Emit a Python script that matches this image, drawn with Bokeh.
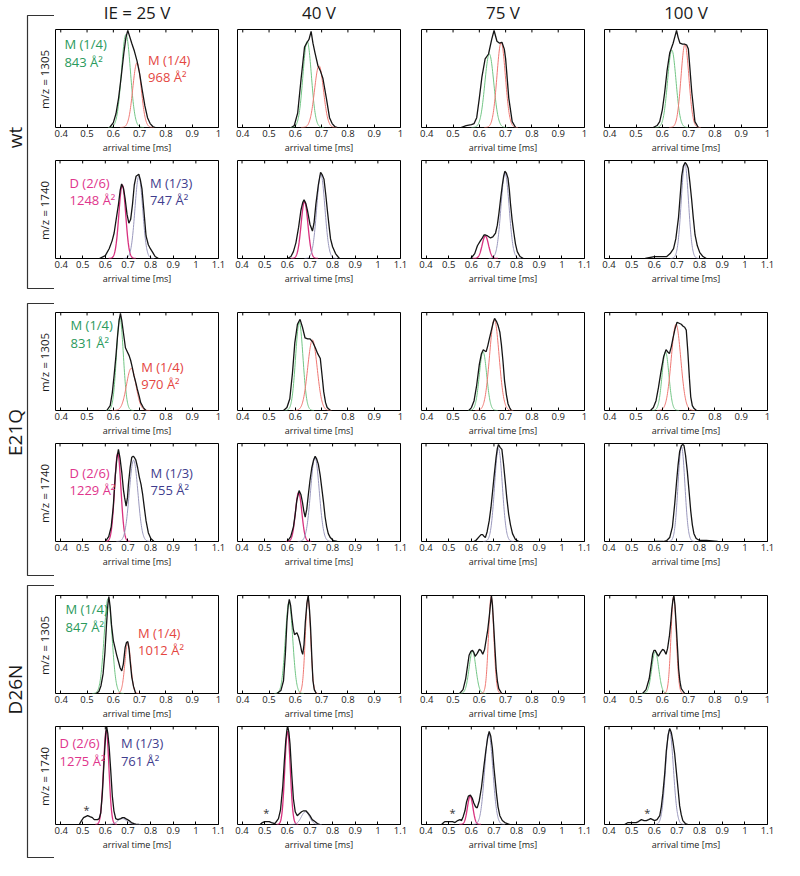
import numpy as np
from bokeh.plotting import figure
from bokeh.layouts import row, column, Spacer
from bokeh.models import Range1d, FixedTicker, PrintfTickFormatter, Label
from bokeh.embed import file_html
from bokeh.resources import INLINE

# ---------------- text ----------------
voltage_labels = ["IE = 25 V", "40 V", "75 V", "100 V"]
group_labels = ["wt", "E21Q", "D26N"]
mz_labels = ["m/z = 1305", "m/z = 1740"]
x_label = "arrival time [ms]"
ticks_1305 = [0.4, 0.5, 0.6, 0.7, 0.8, 0.9, 1.0]
ticks_1740 = [0.4, 0.5, 0.6, 0.7, 0.8, 0.9, 1.0, 1.1]

species_1305 = ["M (1/4)", "M (1/4)"]
species_1740 = ["D (2/6)", "M (1/3)"]
ccs_wt_1305 = ["843 Å²", "968 Å²"]
ccs_wt_1740 = ["1248 Å²", "747 Å²"]
ccs_e21q_1305 = ["831 Å²", "970 Å²"]
ccs_e21q_1740 = ["1229 Å²", "755 Å²"]
ccs_d26n_1305 = ["847 Å²", "1012 Å²"]
ccs_d26n_1740 = ["1275 Å²", "761 Å²"]

# ---------------- measured arrival time distributions (t in ms, normalised intensity) ----------------
# wt, m/z 1305
wt1305_25_t = [0.586, 0.60, 0.61, 0.62, 0.63, 0.64, 0.648, 0.655, 0.662, 0.67, 0.68, 0.69, 0.70, 0.71, 0.72, 0.73, 0.74, 0.75, 0.76]
wt1305_25_i = [0.00, 0.05, 0.14, 0.30, 0.52, 0.76, 0.92, 0.99, 0.93, 0.86, 0.78, 0.68, 0.55, 0.38, 0.22, 0.10, 0.04, 0.01, 0.00]
wt1305_40_t = [0.585, 0.596, 0.609, 0.622, 0.635, 0.645, 0.652, 0.66, 0.667, 0.675, 0.686, 0.695, 0.705, 0.718, 0.73, 0.74, 0.75, 0.76]
wt1305_40_i = [0.00, 0.02, 0.15, 0.50, 0.82, 0.87, 0.90, 0.98, 0.86, 0.76, 0.63, 0.58, 0.50, 0.30, 0.10, 0.04, 0.01, 0.00]
wt1305_75_t = [0.53, 0.55, 0.57, 0.58, 0.59, 0.60, 0.61, 0.622, 0.635, 0.647, 0.656, 0.667, 0.677, 0.686, 0.695, 0.70, 0.712, 0.725, 0.738]
wt1305_75_i = [0.00, 0.02, 0.03, 0.04, 0.10, 0.30, 0.52, 0.70, 0.75, 0.90, 0.99, 0.88, 0.86, 0.87, 0.80, 0.70, 0.30, 0.06, 0.00]
wt1305_100_t = [0.565, 0.58, 0.59, 0.60, 0.609, 0.618, 0.628, 0.641, 0.648, 0.654, 0.66, 0.667, 0.677, 0.686, 0.693, 0.699, 0.705, 0.712, 0.724, 0.737]
wt1305_100_i = [0.00, 0.02, 0.06, 0.18, 0.36, 0.58, 0.76, 0.86, 0.93, 0.99, 0.92, 0.86, 0.85, 0.85, 0.84, 0.80, 0.60, 0.36, 0.06, 0.00]
# wt, m/z 1740
wt1740_25_t = [0.574, 0.60, 0.617, 0.63, 0.639, 0.648, 0.658, 0.666, 0.672, 0.68, 0.687, 0.696, 0.704, 0.712, 0.72, 0.728, 0.736, 0.748, 0.755, 0.762, 0.77, 0.78, 0.79, 0.799, 0.81, 0.82, 0.835]
wt1740_25_i = [0.00, 0.03, 0.10, 0.18, 0.26, 0.40, 0.55, 0.70, 0.76, 0.72, 0.62, 0.45, 0.36, 0.40, 0.55, 0.75, 0.84, 0.86, 0.80, 0.71, 0.50, 0.23, 0.14, 0.10, 0.06, 0.02, 0.00]
wt1740_40_t = [0.60, 0.616, 0.627, 0.638, 0.65, 0.66, 0.668, 0.674, 0.682, 0.689, 0.70, 0.711, 0.718, 0.726, 0.737, 0.747, 0.755, 0.762, 0.77, 0.777, 0.785, 0.791, 0.80, 0.813, 0.83]
wt1740_40_i = [0.00, 0.02, 0.07, 0.16, 0.32, 0.49, 0.57, 0.60, 0.56, 0.49, 0.35, 0.28, 0.36, 0.55, 0.75, 0.88, 0.85, 0.81, 0.65, 0.49, 0.32, 0.20, 0.12, 0.05, 0.00]
wt1740_75_t = [0.598, 0.615, 0.627, 0.64, 0.649, 0.656, 0.663, 0.672, 0.685, 0.695, 0.707, 0.715, 0.722, 0.73, 0.737, 0.743, 0.748, 0.755, 0.762, 0.768, 0.773, 0.78, 0.788, 0.795, 0.803, 0.815, 0.83]
wt1740_75_i = [0.00, 0.05, 0.13, 0.18, 0.21, 0.24, 0.24, 0.23, 0.21, 0.22, 0.26, 0.34, 0.46, 0.62, 0.75, 0.84, 0.89, 0.87, 0.82, 0.70, 0.56, 0.40, 0.26, 0.15, 0.07, 0.02, 0.00]
wt1740_100_t = [0.56, 0.60, 0.63, 0.655, 0.67, 0.685, 0.695, 0.707, 0.714, 0.721, 0.728, 0.736, 0.743, 0.75, 0.757, 0.765, 0.772, 0.78, 0.79, 0.801, 0.815, 0.83]
wt1740_100_i = [0.00, 0.02, 0.02, 0.02, 0.05, 0.10, 0.20, 0.42, 0.63, 0.84, 0.94, 0.98, 0.96, 0.92, 0.78, 0.60, 0.42, 0.24, 0.13, 0.06, 0.02, 0.00]
# E21Q, m/z 1305
e21q1305_25_t = [0.575, 0.588, 0.596, 0.603, 0.61, 0.616, 0.622, 0.627, 0.632, 0.64, 0.646, 0.653, 0.66, 0.666, 0.672, 0.678, 0.685, 0.691, 0.698, 0.704, 0.714, 0.724]
e21q1305_25_i = [0.00, 0.05, 0.18, 0.36, 0.56, 0.76, 0.92, 0.99, 0.92, 0.76, 0.64, 0.60, 0.56, 0.51, 0.44, 0.36, 0.29, 0.22, 0.15, 0.08, 0.03, 0.00]
e21q1305_40_t = [0.555, 0.568, 0.579, 0.589, 0.598, 0.608, 0.618, 0.627, 0.637, 0.647, 0.656, 0.666, 0.676, 0.685, 0.695, 0.702, 0.708, 0.715, 0.721, 0.734]
e21q1305_40_i = [0.00, 0.03, 0.12, 0.38, 0.69, 0.88, 0.93, 0.85, 0.74, 0.73, 0.73, 0.70, 0.64, 0.58, 0.53, 0.35, 0.19, 0.08, 0.03, 0.00]
e21q1305_75_t = [0.56, 0.57, 0.58, 0.59, 0.60, 0.608, 0.615, 0.62, 0.626, 0.632, 0.638, 0.645, 0.652, 0.658, 0.665, 0.671, 0.678, 0.684, 0.69, 0.696, 0.703, 0.709, 0.715, 0.722]
e21q1305_75_i = [0.00, 0.03, 0.10, 0.26, 0.47, 0.58, 0.62, 0.61, 0.60, 0.66, 0.73, 0.81, 0.89, 0.94, 0.91, 0.87, 0.80, 0.67, 0.50, 0.30, 0.16, 0.07, 0.03, 0.00]
e21q1305_100_t = [0.555, 0.566, 0.576, 0.585, 0.595, 0.605, 0.614, 0.62, 0.627, 0.634, 0.64, 0.648, 0.656, 0.664, 0.672, 0.679, 0.685, 0.691, 0.697, 0.703, 0.708, 0.714, 0.721, 0.73]
e21q1305_100_i = [0.00, 0.03, 0.10, 0.23, 0.40, 0.55, 0.62, 0.60, 0.58, 0.65, 0.73, 0.83, 0.90, 0.89, 0.88, 0.86, 0.85, 0.82, 0.60, 0.33, 0.14, 0.05, 0.02, 0.00]
# E21Q, m/z 1740
e21q1740_25_t = [0.60, 0.615, 0.626, 0.635, 0.644, 0.651, 0.658, 0.665, 0.673, 0.68, 0.685, 0.692, 0.698, 0.702, 0.71, 0.717, 0.723, 0.728, 0.735, 0.743, 0.75, 0.758, 0.765, 0.772, 0.78, 0.79, 0.801, 0.815]
e21q1740_25_i = [0.00, 0.05, 0.15, 0.35, 0.67, 0.85, 0.94, 0.85, 0.70, 0.53, 0.45, 0.36, 0.45, 0.58, 0.76, 0.86, 0.87, 0.86, 0.83, 0.75, 0.66, 0.58, 0.48, 0.35, 0.21, 0.09, 0.03, 0.00]
e21q1740_40_t = [0.60, 0.615, 0.627, 0.635, 0.642, 0.652, 0.66, 0.667, 0.673, 0.679, 0.686, 0.693, 0.70, 0.708, 0.716, 0.723, 0.73, 0.737, 0.745, 0.752, 0.76, 0.767, 0.774, 0.781, 0.79, 0.803, 0.82]
e21q1740_40_i = [0.00, 0.05, 0.15, 0.28, 0.42, 0.52, 0.48, 0.40, 0.31, 0.25, 0.33, 0.48, 0.62, 0.75, 0.83, 0.87, 0.84, 0.79, 0.68, 0.55, 0.40, 0.25, 0.15, 0.08, 0.04, 0.01, 0.00]
e21q1740_75_t = [0.61, 0.62, 0.635, 0.643, 0.65, 0.657, 0.662, 0.67, 0.679, 0.687, 0.694, 0.70, 0.709, 0.715, 0.72, 0.727, 0.735, 0.742, 0.75, 0.757, 0.765, 0.773, 0.782, 0.795, 0.81]
e21q1740_75_i = [0.00, 0.01, 0.05, 0.07, 0.07, 0.05, 0.04, 0.10, 0.21, 0.35, 0.51, 0.65, 0.85, 0.95, 0.99, 0.96, 0.94, 0.80, 0.61, 0.44, 0.28, 0.17, 0.08, 0.02, 0.00]
e21q1740_100_t = [0.60, 0.64, 0.655, 0.668, 0.68, 0.69, 0.698, 0.705, 0.712, 0.72, 0.726, 0.731, 0.738, 0.746, 0.754, 0.761, 0.768, 0.775, 0.785, 0.80, 0.83, 0.88]
e21q1740_100_i = [0.00, 0.00, 0.01, 0.04, 0.15, 0.38, 0.60, 0.78, 0.92, 0.98, 0.99, 0.98, 0.88, 0.71, 0.50, 0.31, 0.17, 0.08, 0.03, 0.01, 0.01, 0.00]
# D26N, m/z 1305
d26n1305_25_t = [0.535, 0.545, 0.553, 0.561, 0.568, 0.574, 0.579, 0.583, 0.588, 0.593, 0.60, 0.606, 0.612, 0.619, 0.626, 0.632, 0.638, 0.645, 0.65, 0.655, 0.66, 0.664, 0.67, 0.677, 0.685]
d26n1305_25_i = [0.00, 0.02, 0.08, 0.20, 0.42, 0.70, 0.90, 0.99, 0.88, 0.70, 0.54, 0.47, 0.40, 0.33, 0.26, 0.23, 0.30, 0.47, 0.52, 0.53, 0.45, 0.33, 0.17, 0.07, 0.00]
d26n1305_40_t = [0.53, 0.545, 0.555, 0.562, 0.568, 0.573, 0.577, 0.582, 0.587, 0.592, 0.597, 0.601, 0.606, 0.612, 0.619, 0.624, 0.628, 0.633, 0.638, 0.644, 0.649, 0.654, 0.658, 0.663, 0.667, 0.672, 0.68]
d26n1305_40_i = [0.00, 0.03, 0.13, 0.40, 0.73, 0.90, 0.96, 0.90, 0.77, 0.66, 0.60, 0.61, 0.62, 0.58, 0.50, 0.43, 0.40, 0.50, 0.73, 0.92, 1.00, 0.85, 0.67, 0.35, 0.13, 0.04, 0.00]
d26n1305_75_t = [0.525, 0.538, 0.548, 0.555, 0.561, 0.568, 0.574, 0.579, 0.584, 0.592, 0.60, 0.606, 0.613, 0.62, 0.626, 0.632, 0.638, 0.642, 0.646, 0.65, 0.654, 0.659, 0.664, 0.669, 0.674, 0.685]
d26n1305_75_i = [0.00, 0.04, 0.15, 0.28, 0.39, 0.43, 0.44, 0.42, 0.38, 0.41, 0.45, 0.44, 0.40, 0.45, 0.55, 0.65, 0.79, 0.90, 1.00, 0.90, 0.72, 0.48, 0.25, 0.12, 0.05, 0.00]
d26n1305_100_t = [0.525, 0.538, 0.55, 0.557, 0.563, 0.568, 0.573, 0.579, 0.585, 0.593, 0.601, 0.607, 0.614, 0.62, 0.627, 0.632, 0.636, 0.64, 0.644, 0.648, 0.653, 0.658, 0.662, 0.667, 0.672, 0.685]
d26n1305_100_i = [0.00, 0.04, 0.15, 0.28, 0.40, 0.44, 0.44, 0.41, 0.38, 0.42, 0.45, 0.44, 0.40, 0.46, 0.59, 0.72, 0.86, 0.95, 1.00, 0.90, 0.69, 0.45, 0.25, 0.12, 0.05, 0.00]
# D26N, m/z 1740
d26n1740_25_t = [0.485, 0.495, 0.504, 0.513, 0.522, 0.532, 0.543, 0.551, 0.558, 0.566, 0.573, 0.58, 0.587, 0.593, 0.598, 0.602, 0.606, 0.611, 0.617, 0.624, 0.631, 0.638, 0.646, 0.655, 0.668, 0.676, 0.683, 0.69, 0.698, 0.705, 0.715, 0.727, 0.74, 0.75]
d26n1740_25_i = [0.00, 0.04, 0.07, 0.08, 0.09, 0.08, 0.07, 0.05, 0.05, 0.05, 0.06, 0.12, 0.32, 0.58, 0.79, 0.93, 1.00, 0.93, 0.79, 0.55, 0.29, 0.14, 0.06, 0.05, 0.06, 0.07, 0.07, 0.06, 0.05, 0.04, 0.02, 0.01, 0.00, 0.00]
d26n1740_40_t = [0.48, 0.49, 0.50, 0.51, 0.52, 0.53, 0.545, 0.561, 0.57, 0.58, 0.587, 0.593, 0.598, 0.602, 0.607, 0.612, 0.62, 0.627, 0.635, 0.644, 0.653, 0.663, 0.672, 0.682, 0.69, 0.70, 0.71, 0.722, 0.733, 0.744]
d26n1740_40_i = [0.00, 0.02, 0.03, 0.03, 0.03, 0.02, 0.01, 0.06, 0.15, 0.39, 0.65, 0.85, 0.96, 1.00, 0.94, 0.82, 0.50, 0.26, 0.13, 0.09, 0.11, 0.13, 0.14, 0.14, 0.12, 0.09, 0.05, 0.03, 0.01, 0.00]
d26n1740_75_t = [0.469, 0.478, 0.484, 0.495, 0.506, 0.517, 0.528, 0.54, 0.55, 0.557, 0.564, 0.572, 0.579, 0.587, 0.596, 0.604, 0.611, 0.619, 0.626, 0.635, 0.645, 0.655, 0.664, 0.672, 0.679, 0.686, 0.693, 0.70, 0.711, 0.718, 0.726, 0.737, 0.748, 0.77]
d26n1740_75_i = [0.00, 0.02, 0.03, 0.03, 0.03, 0.03, 0.02, 0.04, 0.05, 0.04, 0.08, 0.14, 0.23, 0.29, 0.30, 0.27, 0.22, 0.18, 0.17, 0.24, 0.38, 0.58, 0.75, 0.88, 0.95, 0.90, 0.78, 0.58, 0.32, 0.18, 0.09, 0.04, 0.02, 0.00]
d26n1740_100_t = [0.469, 0.484, 0.50, 0.52, 0.53, 0.543, 0.555, 0.565, 0.575, 0.584, 0.593, 0.601, 0.612, 0.624, 0.631, 0.638, 0.646, 0.653, 0.661, 0.668, 0.675, 0.682, 0.69, 0.697, 0.705, 0.712, 0.719, 0.726, 0.737, 0.749]
d26n1740_100_i = [0.00, 0.02, 0.02, 0.02, 0.03, 0.05, 0.04, 0.04, 0.05, 0.06, 0.05, 0.04, 0.05, 0.09, 0.18, 0.32, 0.52, 0.75, 0.91, 0.98, 0.94, 0.85, 0.72, 0.55, 0.36, 0.19, 0.10, 0.04, 0.01, 0.00]

# ---------------- fitted Gaussian components: (centre ms, height, sigma ms) per voltage ----------------
wt1305_green = [(0.648, 0.95, 0.017), (0.645, 0.88, 0.016), (0.638, 0.75, 0.017), (0.636, 0.79, 0.016)]
wt1305_red = [(0.690, 0.66, 0.016), (0.690, 0.63, 0.017), (0.683, 0.87, 0.016), (0.686, 0.85, 0.015)]
wt1740_dimer = [(0.675, 0.75, 0.015), (0.676, 0.58, 0.015), (0.662, 0.23, 0.014), None]
wt1740_monomer = [(0.748, 0.84, 0.017), (0.748, 0.86, 0.018), (0.749, 0.87, 0.018), (0.735, 0.97, 0.016)]
e21q1305_green = [(0.625, 0.95, 0.013), (0.615, 0.90, 0.014), (0.614, 0.60, 0.014), (0.612, 0.60, 0.013)]
e21q1305_red = [(0.668, 0.43, 0.018), (0.665, 0.72, 0.018), (0.657, 0.93, 0.018), (0.652, 0.88, 0.018)]
e21q1740_dimer = [(0.655, 0.90, 0.014), (0.650, 0.50, 0.014), None, None]
e21q1740_monomer = [(0.725, 0.83, 0.019), (0.722, 0.86, 0.019), (0.720, 0.95, 0.017), (0.720, 0.97, 0.015)]
d26n1305_green = [(0.580, 0.97, 0.015), (0.576, 0.93, 0.014), (0.574, 0.43, 0.013), (0.573, 0.43, 0.013)]
d26n1305_red = [(0.655, 0.52, 0.011), (0.648, 0.98, 0.010), (0.645, 0.99, 0.010), (0.643, 0.99, 0.010)]
d26n1740_dimer = [(0.604, 0.96, 0.012), (0.601, 0.95, 0.012), (0.595, 0.29, 0.012), None]
d26n1740_monomer = [(0.675, 0.06, 0.020), (0.680, 0.13, 0.018), (0.677, 0.93, 0.018), (0.667, 0.97, 0.017)]

# unassigned minor species (asterisks): (t, intensity) per voltage
d26n1740_star = [(0.517, 0.15), (0.507, 0.12), (0.517, 0.12), (0.569, 0.12)]

# ---------------- styling ----------------
FONT = "Open Sans"
C_BLACK = "#151515"
FIT_COL = {"green": "#72c585", "red": "#ef7873", "dimer": "#d8317f", "monomer": "#9a98bd"}
TXT_COL = {"green": "#2a9a5c", "red": "#e4463f", "dimer": "#e0358c", "monomer": "#3f3d8e"}

FRAME_W, FRAME_H = 163, 100
BORDER_L = [1, 9, 10, 10]
BORDER_R = [10, 11, 10, 17]
B_TOP, B_BOT = 4, 27

rows_spec = [
    dict(curves=[(wt1305_25_t, wt1305_25_i), (wt1305_40_t, wt1305_40_i), (wt1305_75_t, wt1305_75_i), (wt1305_100_t, wt1305_100_i)],
         fits=[("green", wt1305_green), ("red", wt1305_red)], ticks=ticks_1305, xmax=1.0,
         species=species_1305, ccs=ccs_wt_1305, pos=[(0.414, 0.85, 0.67), (0.732, 0.69, 0.52)], stars=None),
    dict(curves=[(wt1740_25_t, wt1740_25_i), (wt1740_40_t, wt1740_40_i), (wt1740_75_t, wt1740_75_i), (wt1740_100_t, wt1740_100_i)],
         fits=[("dimer", wt1740_dimer), ("monomer", wt1740_monomer)], ticks=ticks_1740, xmax=1.1,
         species=species_1740, ccs=ccs_wt_1740, pos=[(0.442, 0.77, 0.60), (0.797, 0.77, 0.60)], stars=None),
    dict(curves=[(e21q1305_25_t, e21q1305_25_i), (e21q1305_40_t, e21q1305_40_i), (e21q1305_75_t, e21q1305_75_i), (e21q1305_100_t, e21q1305_100_i)],
         fits=[("green", e21q1305_green), ("red", e21q1305_red)], ticks=ticks_1305, xmax=1.0,
         species=species_1305, ccs=ccs_e21q_1305, pos=[(0.437, 0.87, 0.69), (0.706, 0.44, 0.27)], stars=None),
    dict(curves=[(e21q1740_25_t, e21q1740_25_i), (e21q1740_40_t, e21q1740_40_i), (e21q1740_75_t, e21q1740_75_i), (e21q1740_100_t, e21q1740_100_i)],
         fits=[("dimer", e21q1740_dimer), ("monomer", e21q1740_monomer)], ticks=ticks_1740, xmax=1.1,
         species=species_1740, ccs=ccs_e21q_1740, pos=[(0.442, 0.70, 0.53), (0.80, 0.70, 0.53)], stars=None),
    dict(curves=[(d26n1305_25_t, d26n1305_25_i), (d26n1305_40_t, d26n1305_40_i), (d26n1305_75_t, d26n1305_75_i), (d26n1305_100_t, d26n1305_100_i)],
         fits=[("green", d26n1305_green), ("red", d26n1305_red)], ticks=ticks_1305, xmax=1.0,
         species=species_1305, ccs=ccs_d26n_1305, pos=[(0.418, 0.86, 0.68), (0.694, 0.62, 0.44)], stars=None),
    dict(curves=[(d26n1740_25_t, d26n1740_25_i), (d26n1740_40_t, d26n1740_40_i), (d26n1740_75_t, d26n1740_75_i), (d26n1740_100_t, d26n1740_100_i)],
         fits=[("dimer", d26n1740_dimer), ("monomer", d26n1740_monomer)], ticks=ticks_1740, xmax=1.1,
         species=species_1740, ccs=ccs_d26n_1740, pos=[(0.398, 0.83, 0.65), (0.669, 0.83, 0.65)], stars=d26n1740_star),
]


def make_panel(spec, col):
    bl, br = BORDER_L[col], BORDER_R[col]
    p = figure(width=bl + FRAME_W + br, height=B_TOP + FRAME_H + B_BOT,
               x_range=Range1d(0.38, spec["xmax"]), y_range=Range1d(0, 1.0),
               output_backend="svg", toolbar_location=None, y_axis_location=None,
               min_border_left=bl, min_border_right=br, min_border_top=B_TOP, min_border_bottom=B_BOT)
    p.grid.visible = False
    p.outline_line_color = "black"
    p.outline_line_width = 1
    p.outline_line_alpha = 1
    p.background_fill_color = "white"
    p.border_fill_color = "white"

    ax = p.xaxis[0]
    ax.ticker = FixedTicker(ticks=spec["ticks"])
    ax.formatter = PrintfTickFormatter(format="%g")
    ax.major_tick_in = 3
    ax.major_tick_out = 0
    ax.major_tick_line_color = "black"
    ax.minor_tick_line_color = None
    ax.axis_line_color = None
    ax.major_label_text_font = FONT
    ax.major_label_text_font_size = "9.5px"
    ax.major_label_text_color = "#222222"
    ax.major_label_standoff = 2
    ax.axis_label = x_label
    ax.axis_label_text_font = FONT
    ax.axis_label_text_font_size = "9px"
    ax.axis_label_text_font_style = "normal"
    ax.axis_label_text_color = "#222222"
    ax.axis_label_standoff = 1

    # inward tick marks along the top edge (mirrored x ticks)
    tk = spec["ticks"]
    p.segment(x0=tk, y0=[1.0] * len(tk), x1=tk, y1=[0.97] * len(tk), line_color="black", line_width=1)

    # fitted components
    for kind, params in spec["fits"]:
        prm = params[col]
        if prm is None:
            continue
        c, h, s = prm
        tt = np.linspace(c - 4 * s, c + 4 * s, 121)
        yy = h * np.exp(-0.5 * ((tt - c) / s) ** 2)
        lw = 1.3 if kind == "dimer" else 1.0
        p.line(tt, yy, line_color=FIT_COL[kind], line_width=lw)

    # measured ATD
    t, i = spec["curves"][col]
    p.line(t, i, line_color=C_BLACK, line_width=1.3)

    if spec["stars"] is not None:
        st, si = spec["stars"][col]
        p.add_layout(Label(x=st, y=si, text="*", text_font=FONT, text_font_size="11px",
                           text_color="#333333", text_align="center", text_baseline="middle"))

    if col == 0:
        kinds = [k for k, _ in spec["fits"]]
        for k, sp, cc, (lx, y1, y2) in zip(kinds, spec["species"], spec["ccs"], spec["pos"]):
            for txt, yy in ((sp, y1), (cc, y2)):
                p.add_layout(Label(x=lx, y=yy, text=txt, text_font=FONT, text_font_size="13px",
                                   text_color=TXT_COL[k], text_align="left", text_baseline="middle"))
    return p


panel_rows = []
for spec in rows_spec:
    panel_rows.append(row(*[make_panel(spec, c) for c in range(4)], spacing=0))

# ---------------- header ----------------
HEAD_W, HEAD_H = 730, 25
header = figure(width=HEAD_W, height=HEAD_H, x_range=Range1d(0, HEAD_W), y_range=Range1d(0, HEAD_H),
                output_backend="svg", toolbar_location=None, min_border=0,
                x_axis_location=None, y_axis_location=None)
header.grid.visible = False
header.outline_line_color = None
head_x = [82.5, 264.5, 448.5, 631.5]
for hx, txt in zip(head_x, voltage_labels):
    header.add_layout(Label(x=hx, y=13.5, text=txt, text_font=FONT, text_font_size="17px",
                            text_color="#1a1a1a", text_align="center", text_baseline="middle"))

GAP = 21
grid = column(header, panel_rows[0], panel_rows[1], Spacer(width=HEAD_W, height=GAP),
              panel_rows[2], panel_rows[3], Spacer(width=HEAD_W, height=GAP),
              panel_rows[4], panel_rows[5], spacing=0)

# ---------------- left side: group brackets and m/z labels ----------------
DECO_W, DECO_H = 54, 858
deco = figure(width=DECO_W, height=DECO_H, x_range=Range1d(0, DECO_W), y_range=Range1d(0, DECO_H),
              output_backend="svg", toolbar_location=None, min_border=0,
              x_axis_location=None, y_axis_location=None)
deco.grid.visible = False
deco.outline_line_color = None

PH = B_TOP + FRAME_H + B_BOT
row_tops = [HEAD_H, HEAD_H + PH, HEAD_H + 2 * PH + GAP, HEAD_H + 3 * PH + GAP,
            HEAD_H + 4 * PH + 2 * GAP, HEAD_H + 5 * PH + 2 * GAP]
frame_tops = [rt + B_TOP for rt in row_tops]
bracket = [(frame_tops[0] - 14, frame_tops[1] + FRAME_H + 28),
           (frame_tops[2] - 9, frame_tops[3] + FRAME_H + 32),
           (frame_tops[4] - 10, frame_tops[5] + FRAME_H + 31)]
group_y = [137, 432, 689]
for (ytop, ybot), gy, g in zip(bracket, group_y, group_labels):
    xs = [DECO_W, 27, 27, DECO_W]
    ys = [DECO_H - ytop, DECO_H - ytop, DECO_H - ybot, DECO_H - ybot]
    deco.line(xs, ys, line_color="#333333", line_width=1.2)
    deco.add_layout(Label(x=14, y=DECO_H - gy, text=g, angle=np.pi / 2, text_font=FONT,
                          text_font_size="19px", text_color="#1a1a1a",
                          text_align="center", text_baseline="middle"))
for k, ft in enumerate(frame_tops):
    deco.add_layout(Label(x=44, y=DECO_H - (ft + FRAME_H / 2), text=mz_labels[k % 2], angle=np.pi / 2,
                          text_font=FONT, text_font_size="11.5px", text_color="#1a1a1a",
                          text_align="center", text_baseline="middle"))

layout = row(deco, grid, spacing=0)

open("out.html", "w").write(file_html(layout, INLINE))
